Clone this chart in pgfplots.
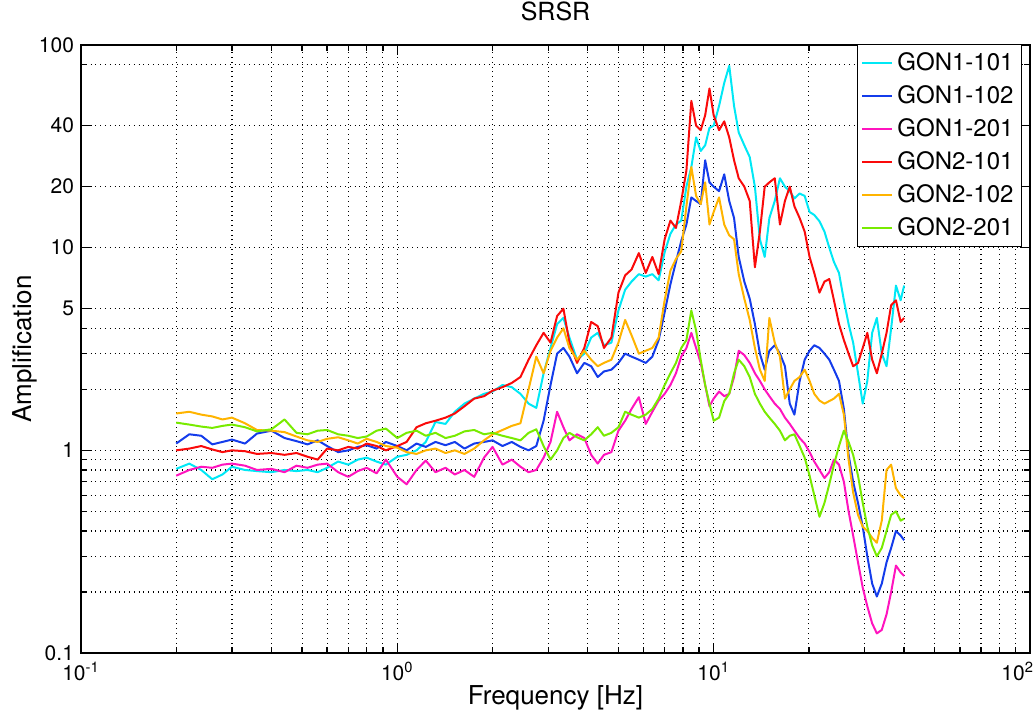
\documentclass[border=0pt]{standalone}
\usepackage{fontspec}
\setmainfont{TeX Gyre Heros}
\usepackage{pgfplots}
\usepackage{pgfplotstable}
\pgfplotsset{compat=1.18}
\definecolor{cCy}{RGB}{0,232,245}
\definecolor{cBl}{RGB}{20,60,235}
\definecolor{cMa}{RGB}{255,20,190}
\definecolor{cRe}{RGB}{250,10,10}
\definecolor{cOr}{RGB}{255,180,0}
\definecolor{cGr}{RGB}{120,235,0}
\pgfplotstableread{
f c1 c2 c3 c4 c5 c6
0.20 0.81 1.08 0.75 1.00 1.52 1.37
0.22 0.86 1.20 0.80 1.02 1.55 1.34
0.24 0.80 1.18 0.83 1.05 1.50 1.31
0.26 0.72 1.07 0.82 1.01 1.47 1.29
0.28 0.76 1.10 0.85 0.98 1.42 1.32
0.30 0.83 1.13 0.86 1.00 1.45 1.34
0.33 0.80 1.08 0.84 0.99 1.36 1.30
0.36 0.79 1.21 0.80 0.96 1.26 1.24
0.40 0.78 1.25 0.81 0.97 1.25 1.27
0.44 0.80 1.15 0.78 0.95 1.23 1.42
0.48 0.79 1.11 0.84 0.97 1.17 1.22
0.52 0.80 1.07 0.82 0.93 1.12 1.20
0.56 0.78 1.12 0.85 0.90 1.10 1.25
0.60 0.82 1.05 0.86 1.02 1.14 1.26
0.65 0.88 0.98 0.78 1.00 1.16 1.20
0.70 0.85 1.00 0.74 1.04 1.12 1.18
0.75 0.90 1.04 0.79 1.02 1.08 1.15
0.80 0.92 1.06 0.82 1.08 1.14 1.17
0.86 0.88 1.02 0.77 1.05 1.10 1.25
0.92 0.85 1.10 0.90 1.00 1.05 1.28
1.00 0.93 1.05 0.74 1.05 1.03 1.15
1.07 0.95 1.00 0.68 1.10 0.98 1.22
1.15 1.00 1.08 0.80 1.30 0.96 1.25
1.23 1.10 1.04 0.89 1.36 1.00 1.18
1.32 1.38 1.10 0.78 1.40 1.02 1.22
1.42 1.35 1.06 0.82 1.45 0.97 1.15
1.52 1.55 1.10 0.76 1.52 1.00 1.18
1.63 1.70 1.02 0.80 1.65 0.96 1.24
1.75 1.80 1.08 0.74 1.80 1.02 1.26
1.88 1.90 1.10 0.92 1.85 1.12 1.20
2.00 1.95 1.12 1.04 1.97 1.20 1.22
2.15 2.10 1.05 0.85 2.05 1.26 1.18
2.30 2.05 1.10 0.90 2.15 1.32 1.15
2.45 1.90 1.04 0.83 2.30 1.36 1.12
2.60 1.70 1.00 0.78 2.80 2.00 1.22
2.75 1.62 1.05 0.80 3.30 2.90 1.27
2.90 2.40 1.40 0.92 3.80 2.40 1.05
3.05 3.20 2.10 1.10 3.40 3.10 0.90
3.20 4.20 3.00 1.55 4.60 3.60 1.00
3.35 4.50 3.20 1.30 5.00 4.00 1.15
3.50 3.60 2.90 1.12 3.40 3.20 1.22
3.70 2.80 2.40 1.20 2.70 2.80 1.16
3.90 3.00 2.70 1.15 3.20 3.10 1.12
4.10 3.60 2.60 0.95 4.30 2.80 1.20
4.30 3.80 2.30 0.86 4.10 2.60 1.30
4.50 3.30 2.45 0.95 3.20 2.70 1.18
4.75 3.40 2.50 0.98 3.60 2.80 1.22
5.00 4.90 2.70 1.25 6.00 3.40 1.30
5.25 6.20 3.00 1.40 7.30 4.40 1.55
5.50 6.80 2.90 1.60 7.80 3.70 1.50
5.80 7.40 2.80 1.83 9.40 3.00 1.45
6.10 7.20 2.70 1.35 7.50 3.10 1.50
6.40 7.40 2.90 1.55 9.00 3.20 1.60
6.70 6.90 3.50 1.76 7.40 3.60 1.80
7.00 9.50 4.80 1.90 11.0 5.50 2.10
7.30 11.7 6.60 2.10 13.6 7.70 2.40
7.60 13.0 8.50 2.40 12.5 8.80 2.70
7.90 13.6 10.8 2.90 17.0 9.60 3.20
8.20 20.0 13.0 3.20 24.0 16.0 3.50
8.50 25.0 17.7 3.80 53.0 25.0 4.90
8.80 35.0 17.0 3.20 40.0 18.0 3.90
9.10 30.0 16.4 2.70 38.0 16.4 2.80
9.40 32.0 27.0 2.10 45.0 21.0 2.10
9.70 39.0 21.0 1.65 61.0 13.0 1.70
10.0 40.0 20.0 1.80 45.0 15.0 1.40
10.4 50.0 19.0 1.95 38.0 17.7 1.45
10.8 65.0 23.0 1.85 42.0 13.0 1.75
11.2 79.0 17.0 1.90 35.0 11.5 1.90
11.6 50.0 14.0 2.30 27.0 11.0 2.40
12.0 37.0 9.00 3.10 22.0 7.40 2.80
12.5 32.0 6.80 2.95 20.0 5.60 2.60
13.0 28.0 5.60 2.70 17.0 4.40 2.30
13.5 20.0 4.20 2.40 8.00 3.20 1.90
14.0 11.0 3.00 2.20 12.0 2.50 1.70
14.5 9.00 2.50 2.00 20.0 2.20 1.55
15.0 14.0 3.10 1.85 21.0 4.50 1.45
15.6 17.0 3.30 1.70 22.0 3.40 1.35
16.2 22.0 3.00 1.60 13.0 2.90 1.25
16.8 20.0 2.60 1.45 17.0 1.80 1.12
17.4 19.0 1.70 1.35 20.0 2.00 1.18
18.0 17.5 1.50 1.25 16.0 2.20 1.20
18.7 18.5 2.20 1.15 14.0 2.30 1.05
19.4 18.0 2.80 1.08 12.0 2.50 0.92
20.1 15.0 3.10 0.98 9.00 2.20 0.75
20.8 14.5 3.30 0.88 7.50 1.90 0.60
21.6 13.5 3.20 0.80 6.00 1.76 0.47
22.4 12.0 3.00 0.73 6.80 1.70 0.55
23.2 10.0 2.80 0.78 7.00 1.75 0.68
24.0 8.50 2.50 0.90 5.50 1.80 0.85
24.9 7.50 2.20 0.85 4.20 1.90 1.05
25.8 5.50 1.60 0.70 3.50 1.50 1.25
26.7 4.20 0.95 0.50 3.00 0.90 1.10
27.6 3.40 0.70 0.38 2.60 0.62 0.95
28.6 2.40 0.55 0.28 2.70 0.48 0.75
29.6 1.70 0.42 0.21 3.20 0.42 0.55
30.6 2.20 0.30 0.17 3.80 0.40 0.42
31.7 3.80 0.22 0.14 2.80 0.37 0.34
32.8 4.50 0.19 0.125 2.40 0.35 0.30
34.0 3.00 0.22 0.13 3.00 0.45 0.33
35.2 2.60 0.28 0.155 3.80 0.80 0.40
36.4 4.00 0.33 0.20 5.20 0.85 0.48
37.7 6.50 0.40 0.27 5.50 0.65 0.50
39.0 5.50 0.38 0.25 4.30 0.60 0.45
40.0 6.50 0.36 0.24 4.50 0.58 0.46
}\data
\begin{document}
\begin{tikzpicture}
\begin{axis}[
  xmode=log, ymode=log,
  scale only axis,
  width=474.5pt, height=304pt,
  xmin=0.1, xmax=100, ymin=0.1, ymax=100,
  xtick={0.1,1,10,100},
  xticklabels={10\textsuperscript{-1},10\textsuperscript{0},10\textsuperscript{1},\makebox[0pt][r]{10\textsuperscript{2}\kern-2pt}},
  ytick={0.1,1,5,10,20,40,100},
  yticklabels={0.1,1,5,10,20,40,100},
  minor ytick={0.2,0.3,0.4,0.5,0.6,0.7,0.8,0.9,2,3,4,80},
  grid=both,
  major grid style={black, dotted, line width=0.6pt},
  minor grid style={black, dotted, line width=0.6pt},
  tick align=inside,
  tick pos=both,
  major tick length=5pt,
  minor tick length=3pt,
  axis line style={line width=0.9pt},
  tick style={black, line width=0.7pt},
  ticklabel style={font=\fontsize{10.5}{12}\selectfont},
  xticklabel style={yshift=-1pt},
  title={SRSR},
  title style={font=\fontsize{12.5}{14}\selectfont, at={(axis description cs:0.5,1)}, anchor=center, yshift=11pt},
  xlabel={Frequency [Hz]},
  ylabel={Amplification},
  xlabel style={font=\fontsize{13}{15}\selectfont, at={(axis description cs:0.5,0)}, anchor=center, yshift=-22.5pt},
  every axis y label/.style={font=\fontsize{13}{15}\selectfont, at={(axis description cs:-0.0590,0.5)}, anchor=center, rotate=90},
  legend style={at={(1,1)}, anchor=north east, xshift=-4pt, yshift=0.5pt,
    font=\fontsize{12}{14.5}\selectfont, draw=black, line width=0.5pt,
    row sep=2pt, inner sep=2pt},
  legend cell align=left,
  legend image code/.code={\draw[#1, line width=1pt] (0pt,0pt) -- (15pt,0pt);},
  every axis plot/.append style={line width=1pt, line join=round},
]
\addplot[cCy] table[x=f,y=c1]{\data};
\addplot[cBl] table[x=f,y=c2]{\data};
\addplot[cMa] table[x=f,y=c3]{\data};
\addplot[cRe] table[x=f,y=c4]{\data};
\addplot[cOr] table[x=f,y=c5]{\data};
\addplot[cGr] table[x=f,y=c6]{\data};
\legend{GON1-101,GON1-102,GON1-201,GON2-101,GON2-102,GON2-201}
\end{axis}
\pgfresetboundingbox
\path[use as bounding box] ([xshift=-40.5pt,yshift=-30.5pt]current axis.south west) rectangle ([xshift=2.5pt,yshift=22.5pt]current axis.north east);
\end{tikzpicture}
\end{document}
